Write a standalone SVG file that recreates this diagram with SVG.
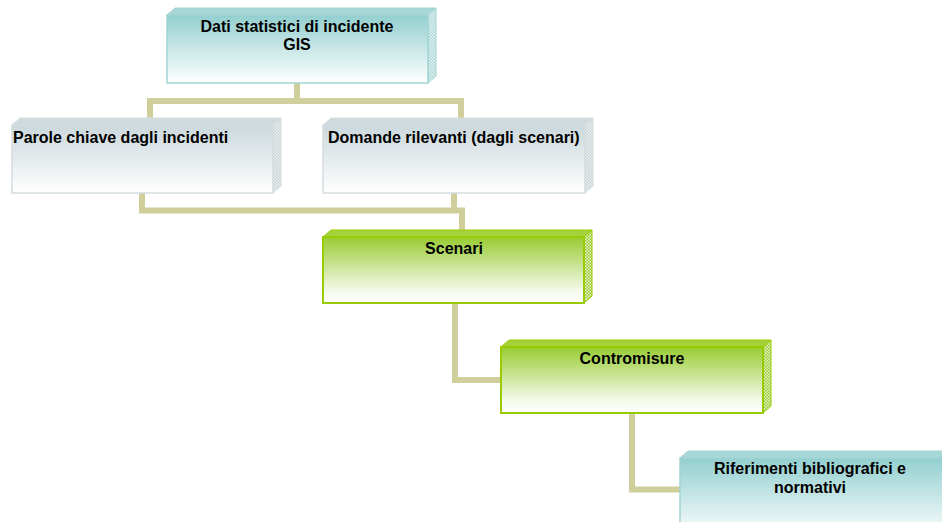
<svg xmlns="http://www.w3.org/2000/svg" width="942" height="522" viewBox="0 0 942 522">
<defs>
<linearGradient id="gTeal" x1="0" y1="0" x2="0" y2="1"><stop offset="0" stop-color="#93cfcf"/><stop offset="1" stop-color="#ffffff"/></linearGradient>
<linearGradient id="gGray" x1="0" y1="0" x2="0" y2="1"><stop offset="0" stop-color="#cbd8dc"/><stop offset="1" stop-color="#ffffff"/></linearGradient>
<linearGradient id="gGreen" x1="0" y1="0" x2="0" y2="1"><stop offset="0" stop-color="#99cc33"/><stop offset="0.8" stop-color="#f3f9e8"/><stop offset="1" stop-color="#ffffff"/></linearGradient>
<pattern id="pTeal" width="3" height="3" patternUnits="userSpaceOnUse"><rect width="3" height="3" fill="#e4f2f2"/><rect width="1.5" height="1.5" fill="#a9d6d6"/><rect x="1.5" y="1.5" width="1.5" height="1.5" fill="#a9d6d6"/></pattern>
<pattern id="pGray" width="3" height="3" patternUnits="userSpaceOnUse"><rect width="3" height="3" fill="#eef2f3"/><rect width="1.5" height="1.5" fill="#c6d0d3"/><rect x="1.5" y="1.5" width="1.5" height="1.5" fill="#c6d0d3"/></pattern>
<pattern id="pGreen" width="3" height="3" patternUnits="userSpaceOnUse"><rect width="3" height="3" fill="#e3f2c4"/><rect width="1.5" height="1.5" fill="#99cc33"/><rect x="1.5" y="1.5" width="1.5" height="1.5" fill="#99cc33"/></pattern>
</defs>
<style>
.conn{fill:none;stroke:#d0cf9c;stroke-width:6;stroke-linejoin:miter;stroke-linecap:butt}
.t{font-family:"Liberation Sans",Arial,sans-serif;font-weight:bold;font-size:16px;fill:#000}
.teal .front{fill:url(#gTeal);stroke:#a3d4d4;stroke-width:1.5}
.teal .top{fill:#a8d7d7;stroke:#a3d4d4;stroke-width:1}
.teal .side{fill:url(#pTeal);stroke:#a3d4d4;stroke-width:1}
.gray .front{fill:url(#gGray);stroke:#d3dcdf;stroke-width:1.5}
.gray .top{fill:#d0dadd;stroke:#d3dcdf;stroke-width:1}
.gray .side{fill:url(#pGray);stroke:#d3dcdf;stroke-width:1}
.green .front{fill:url(#gGreen);stroke:#99cc00;stroke-width:2}
.green .top{fill:#a5d13c;stroke:#99cc00;stroke-width:1}
.green .side{fill:url(#pGreen);stroke:#99cc00;stroke-width:1}
</style>
<g id="connectors">
<polyline class="conn" points="297,83 297,101 150,101 150,125"/>
<polyline class="conn" points="297,101 461,101 461,125"/>
<polyline class="conn" points="142,193 142,210.5 462,210.5 462,237"/>
<polyline class="conn" points="454,193 454,210.5"/>
<polyline class="conn" points="455,303 455,380 501,380"/>
<polyline class="conn" points="632,413 632,489.5 680,489.5"/>
</g>
<g id="node-dati" class="teal">
<polygon class="top" points="167,15 175,8 436,8 428,15"/>
<polygon class="side" points="428,15 436,8 436,76 428,83"/>
<rect class="front" x="167" y="15" width="261" height="68"/>
<text class="t" x="297" y="32" text-anchor="middle">Dati statistici di incidente</text>
<text class="t" x="297" y="50" text-anchor="middle">GIS</text>
</g>
<g id="node-parole" class="gray">
<polygon class="top" points="12,125 20,118 281,118 273,125"/>
<polygon class="side" points="273,125 281,118 281,186 273,193"/>
<rect class="front" x="12" y="125" width="261" height="68"/>
<text class="t" x="13" y="143">Parole chiave dagli incidenti</text>
</g>
<g id="node-domande" class="gray">
<polygon class="top" points="323,125 331,118 593,118 585,125"/>
<polygon class="side" points="585,125 593,118 593,186 585,193"/>
<rect class="front" x="323" y="125" width="262" height="68"/>
<text class="t" x="328" y="143">Domande rilevanti (dagli scenari)</text>
</g>
<g id="node-scenari" class="green">
<polygon class="top" points="323,237 331,230 592,230 584,237"/>
<polygon class="side" points="584,237 592,230 592,296 584,303"/>
<rect class="front" x="323" y="237" width="261" height="66"/>
<text class="t" x="454" y="254" text-anchor="middle">Scenari</text>
</g>
<g id="node-contromisure" class="green">
<polygon class="top" points="501,347 509,340 771,340 763,347"/>
<polygon class="side" points="763,347 771,340 771,406 763,413"/>
<rect class="front" x="501" y="347" width="262" height="66"/>
<text class="t" x="632" y="364" text-anchor="middle">Contromisure</text>
</g>
<g id="node-riferimenti" class="teal">
<polygon class="top" points="680,458 688,451 950,451 942,458"/>
<rect class="front" x="680" y="458" width="270" height="80"/>
<text class="t" x="810" y="474" text-anchor="middle">Riferimenti bibliografici e</text>
<text class="t" x="810" y="493" text-anchor="middle">normativi</text>
</g>
</svg>
